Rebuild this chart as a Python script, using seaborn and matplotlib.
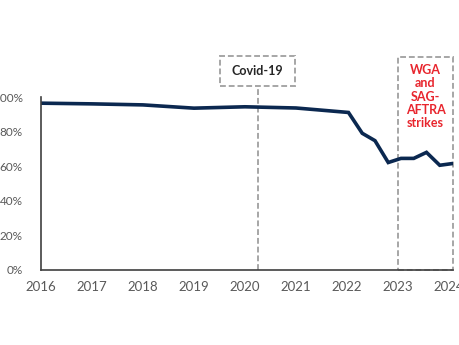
import matplotlib
matplotlib.use("Agg")
import matplotlib.pyplot as plt
from matplotlib.patches import Rectangle
from matplotlib.ticker import PercentFormatter
import pandas as pd
import seaborn as sns

# Share of activity relative to baseline, by (decimal) year
period = [2016.0, 2017.0, 2018.0, 2019.0, 2020.0, 2021.0, 2022.03,
          2022.30, 2022.55, 2022.81, 2023.06, 2023.31, 2023.56, 2023.82, 2024.07]
share = [96.7, 96.3, 95.7, 93.8, 94.6, 93.9, 91.3,
         79.2, 74.9, 62.2, 64.6, 64.6, 68.1, 60.6, 61.6]

year_ticks = [2016, 2017, 2018, 2019, 2020, 2021, 2022, 2023, 2024]
pct_ticks = [0, 20, 40, 60, 80, 100]

covid_date = 2020.26
strike_start = 2023.0
strike_end = 2024.08

sns.set_theme(style="white")
plt.rcParams["font.family"] = ["Lato", "DejaVu Sans"]

df = pd.DataFrame({"period": period, "share": share})

fig = plt.figure(figsize=(4.6, 3.45), dpi=100)
ax = fig.add_axes([41 / 460, 75.5 / 345, 412 / 460, 172 / 345])

sns.lineplot(data=df, x="period", y="share", ax=ax, color="#0b2850",
             linewidth=2.6, solid_joinstyle="miter")

ax.set_xlim(2016, strike_end)
ax.set_ylim(0, 100)
ax.set_xticks(year_ticks)
ax.set_yticks(pct_ticks)
ax.yaxis.set_major_formatter(PercentFormatter(decimals=0))
ax.set_xlabel("")
ax.set_ylabel("")

for side in ("top", "right"):
    ax.spines[side].set_visible(False)
for side in ("left", "bottom"):
    ax.spines[side].set_color("#404040")
    ax.spines[side].set_linewidth(1.2)

ax.tick_params(axis="x", direction="out", length=4, width=1.2, color="#404040",
               labelsize=9.5, labelcolor="#595959", pad=4)
ax.tick_params(axis="y", length=0, labelsize=8.5, labelcolor="#595959", pad=13)

box_kw = dict(fill=False, edgecolor="#a6a6a6", linestyle=(0, (3, 1.5)),
              linewidth=1.4, clip_on=False, zorder=1)

# Covid-19 marker: label box above the plot with a dashed drop line
ax.add_patch(Rectangle((2019.52, 106.9), 2020.98 - 2019.52, 124.3 - 106.9, **box_kw))
ax.plot([covid_date, covid_date], [0, 106.9], color="#a6a6a6",
        linestyle=(0, (3, 1.5)), linewidth=1.4, clip_on=False, zorder=1)
ax.text((2019.52 + 2020.98) / 2, 115.6, "Covid-19", ha="center", va="center",
        fontsize=9, fontweight="bold", color="#262626", clip_on=False)

# Strike period
ax.add_patch(Rectangle((strike_start, 0), strike_end - strike_start, 123.7, **box_kw))
ax.text((strike_start + strike_end) / 2, 100.5, "WGA\nand\nSAG-\nAFTRA\nstrikes",
        ha="center", va="center", fontsize=9, fontweight="bold",
        color="#e8262e", linespacing=1.12, clip_on=False)

fig.savefig("out.png", dpi=100)
